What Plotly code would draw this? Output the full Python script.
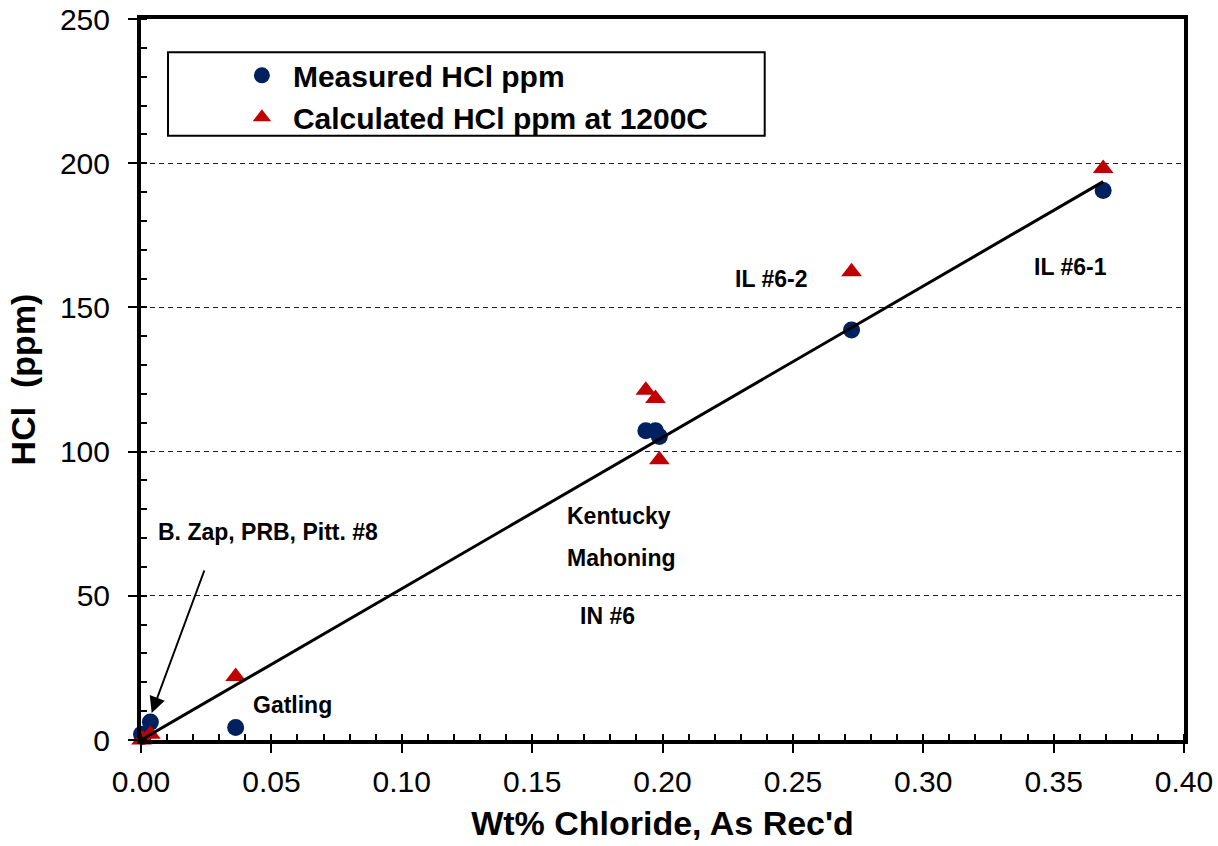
import plotly.graph_objects as go

# Coal samples: wt% chloride (as received) and HCl concentrations (ppm)
coals = ["B. Zap", "PRB", "Pitt. #8", "Gatling", "Kentucky", "Mahoning", "IN #6", "IL #6-2", "IL #6-1"]
chloride_wt = [0.0002, 0.0008, 0.0036, 0.0363, 0.1936, 0.1973, 0.1988, 0.2725, 0.3690]
measured_hcl = [2.0, 1.2, 6.2, 4.3, 107.2, 107.2, 105.2, 142.2, 190.5]
calculated_hcl = [0.0, 0.3, 2.0, 22.0, 121.3, 118.4, 97.2, 162.4, 198.2]

# Linear trend through the measured values
trend_x = [0.0, 0.369]
trend_y = [0.0, 193.6]

FONT = "Liberation Sans, Arial, sans-serif"
NAVY = "#002060"
RED = "#C00000"

fig = go.Figure()

fig.add_trace(go.Scatter(
    x=chloride_wt, y=measured_hcl, mode="markers", name="Measured HCl ppm",
    marker=dict(symbol="circle", size=17, color=NAVY),
    cliponaxis=False, text=coals,
))
fig.add_trace(go.Scatter(
    x=chloride_wt, y=calculated_hcl, mode="markers", name="Calculated HCl ppm at 1200C",
    marker=dict(symbol="triangle-up", size=18, color=RED),
    cliponaxis=False, text=coals,
))
fig.add_trace(go.Scatter(
    x=trend_x, y=trend_y, mode="lines", showlegend=False,
    line=dict(color="black", width=3), cliponaxis=False,
))

label_font = dict(family=FONT, size=23, color="black")
labels = [
    ("B. Zap, PRB, Pitt. #8", 0.0058, 72.2, "left"),
    ("Gatling", 0.0420, 12.2, "left"),
    ("Kentucky", 0.1626, 77.8, "left"),
    ("Mahoning", 0.1626, 63.2, "left"),
    ("IN #6", 0.1676, 43.0, "left"),
    ("IL #6-2", 0.2270, 159.9, "left"),
    ("IL #6-1", 0.3416, 164.0, "left"),
]
for text, lx, ly, anchor in labels:
    fig.add_annotation(x=lx, y=ly, text=f"<b>{text}</b>", showarrow=False,
                       xanchor=anchor, yanchor="middle", font=label_font)

# Pointer to the low-chloride cluster
fig.add_annotation(x=0.0041, y=9.4, ax=0.0245, ay=59.3, axref="x", ayref="y",
                   text="", showarrow=True, arrowhead=2, arrowsize=1.6,
                   arrowwidth=2, arrowcolor="black")

# Legend frame
fig.add_shape(type="rect", xref="paper", yref="paper",
              x0=0.0259, x1=0.598, y0=0.838, y1=0.954,
              line=dict(color="black", width=2), fillcolor="rgba(0,0,0,0)")

tick_font = dict(family=FONT, size=30, color="black")
title_font = dict(family=FONT, size=34, color="black")

fig.update_xaxes(
    range=[0, 0.40], dtick=0.05, tickformat=".2f", automargin=False,
    showline=True, linewidth=4, linecolor="black", mirror=True,
    ticks="outside", ticklen=9, tickwidth=1.5, tickcolor="black",
    ticklabelstandoff=3,
    minor=dict(dtick=0.01, ticks="inside", ticklen=6, tickwidth=1.5, tickcolor="black"),
    showgrid=False, zeroline=False, tickfont=tick_font,
    title=dict(text="<b>Wt% Chloride, As Rec'd</b>", font=title_font),
)
fig.update_yaxes(
    range=[0, 250], dtick=50, automargin=False,
    showline=True, linewidth=4, linecolor="black", mirror=True,
    ticks="outside", ticklen=9, tickwidth=1.5, tickcolor="black",
    ticklabelstandoff=12,
    minor=dict(dtick=10, ticks="inside", ticklen=6, tickwidth=1.5, tickcolor="black", showgrid=False),
    showgrid=True, gridcolor="#202020", gridwidth=1, griddash="5px,4px",
    zeroline=False, tickfont=tick_font,
    title=dict(text="<b>HCl  (ppm)</b>", font=title_font),
)

fig.update_layout(
    width=1218, height=846,
    margin=dict(l=141, r=34, t=19, b=106),
    paper_bgcolor="white", plot_bgcolor="white",
    font=dict(family=FONT, color="black"),
    showlegend=True,
    legend=dict(x=0.0862, y=0.958, xanchor="left", yanchor="top",
                bgcolor="rgba(0,0,0,0)", borderwidth=0, itemwidth=52,
                font=dict(family=FONT, size=30, color="black", weight="bold"),
                tracegroupgap=0),
)

fig.write_html("out.html")
